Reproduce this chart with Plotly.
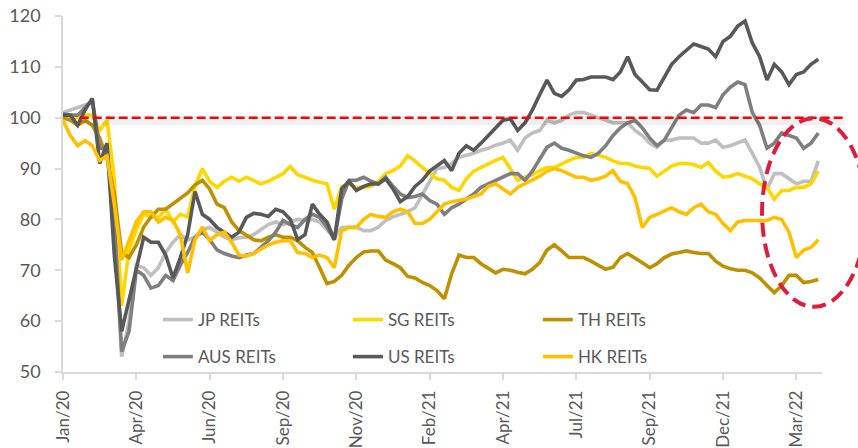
import plotly.graph_objects as go

tick_labels = ["Jan/20", "Apr/20", "Jun/20", "Sep/20", "Nov/20", "Feb/21",
               "Apr/21", "Jul/21", "Sep/21", "Dec/21", "Mar/22"]
tick_step = 10  # points per label interval

jp = [101, 101.5, 102, 102.5, 103, 95, 94, 78, 53, 60,
      71, 70.5, 69, 70.5, 73.5, 75.5, 77, 76, 76.5, 78,
      78.4, 77.5, 76.5, 76, 76.4, 76.5, 77, 78, 79, 79.5,
      79, 79.5, 80, 79.8, 80, 79.5, 78, 76.4, 78.4, 78.4,
      78.5, 77.8, 77.8, 78.5, 79.8, 80.5, 81, 81.5, 82.3, 85,
      87.5, 90, 90.2, 91, 92.2, 92.6, 93, 93.6, 94, 94.6,
      95, 95.6, 93.6, 96, 97, 97.5, 99.5, 99, 99.5, 100.5,
      101, 101, 100.5, 100, 99.5, 99, 99, 99, 97.5, 96.5,
      95, 94.2, 95.6, 95.6, 96, 96, 96, 95, 95, 95.6,
      94.2, 94.5, 95, 95.6, 93, 90.2, 86, 89, 89, 88,
      87, 87.5, 87.5, 91.5]

sg = [100, 100, 100, 100.5, 100.5, 97.5, 99.5, 88, 63, 74,
      78, 81, 80.5, 80.4, 82, 79.5, 81, 80.5, 86.5, 90,
      87.5, 86.3, 87.5, 88.3, 87.5, 88.3, 87.7, 87, 87.5, 88.3,
      89, 90.4, 88.8, 88.3, 87.7, 87.3, 87, 82, 86.5, 87,
      86.3, 86.3, 86.5, 87.5, 89, 89.6, 90.5, 92.5, 91.5, 90.2,
      89, 88, 87.7, 86.3, 85.7, 88, 89.5, 90.2, 91, 91.6,
      92.2, 90, 87.7, 88.3, 88.8, 89.6, 90.2, 90.2, 91, 91.6,
      92.2, 92.2, 93, 92.6, 92.2, 91.5, 91, 91, 90.5, 90.2,
      90, 88.5, 89.6, 90.5, 91, 91, 90.8, 90.2, 91.2, 89.5,
      88.3, 88.5, 89, 88.5, 88, 87, 86.3, 84, 85.7, 85.7,
      86.3, 86.3, 87, 89.5]

th = [100, 99.5, 98.5, 99.5, 98.5, 96, 92, 85, 73.5, 72.5,
      75, 78.5, 80.5, 82, 82, 83, 84, 85.2, 86.8, 87.7,
      86, 83, 82.3, 79.5, 77.8, 77, 76, 75.8, 76.5, 77,
      76.5, 76.5, 75.8, 74.5, 73.5, 70.5, 67.4, 67.8, 69, 71,
      72.5, 73.6, 73.8, 73.8, 72, 71.3, 70.5, 68.8, 68.5, 67.6,
      67, 66, 64.4, 69.3, 73, 72.5, 72.5, 71.3, 70.5, 69.5,
      70.2, 70, 69.6, 69.3, 70.2, 71.5, 74, 75, 73.8, 72.5,
      72.5, 72.5, 71.8, 71, 70.2, 70.6, 72.5, 73.3, 72.5, 71.5,
      70.5, 71.3, 72.5, 73.2, 73.5, 73.8, 73.5, 73.3, 73.3, 71.8,
      70.8, 70.3, 70, 70, 69.5, 68.5, 67, 65.6, 67, 69,
      69, 67.6, 67.8, 68.2]

aus = [100.8, 100.5, 100.5, 102, 103.5, 94, 94, 80, 54, 58,
       70, 69, 66.5, 67, 69, 68, 71, 73.5, 76.5, 77.5,
       76, 74, 73.3, 72.8, 72.5, 73, 73.3, 74.5, 75.8, 77.5,
       79.8, 79, 78.4, 80, 81, 80.4, 78.5, 76, 84, 87.7,
       87.7, 88.3, 87.5, 87, 88.3, 86.5, 85, 84.3, 84.5, 85,
       83.7, 83, 81, 82.3, 83, 84, 85, 86.3, 87, 87.7,
       88.3, 89, 89, 87.7, 89.5, 92, 94.2, 95, 94, 93.6,
       93, 92.5, 92.2, 93, 94.5, 96.5, 98, 99, 99.5, 98,
       96, 94.5, 95.6, 98, 100.5, 101.5, 101, 102.5, 102.5, 102,
       104.5, 106, 107, 106.5, 101, 98.5, 94, 95, 97, 96.5,
       96, 94, 95, 97]

us = [100.5, 100.5, 98.5, 101.5, 103.8, 91, 95, 73, 58, 64,
      70, 76.5, 75.5, 75.5, 73, 68.5, 72.5, 77, 85.5, 81,
      80, 78.4, 77.5, 76.5, 77.5, 80.4, 81.2, 81, 80.6, 82,
      81.5, 80, 76, 77, 83, 81, 79.5, 76, 86, 87.5,
      85.7, 86.5, 87, 87, 88, 86, 83.5, 84.5, 86.5, 87.7,
      89.5, 90.5, 91.6, 89.6, 93, 94.5, 93.6, 95, 96.5, 98,
      99.5, 99.8, 97.5, 99, 101.5, 104.5, 107.4, 104.8, 104.2, 105.5,
      107.4, 107.5, 108, 108, 108, 107.5, 109, 112, 108.5, 107,
      105.5, 105.4, 108, 110.5, 112, 113.3, 114.5, 114, 113.5, 112,
      115, 116, 118, 119, 114.7, 112, 107.4, 110.5, 109, 106.5,
      108.5, 109, 110.5, 111.5]

hk = [99.5, 96.5, 94.5, 95.5, 94.5, 91.6, 92.5, 83, 72, 76,
      79.5, 81.5, 81.5, 79.5, 80.4, 79.8, 77, 69.5, 76, 78.5,
      75.8, 77, 77.5, 75.5, 73, 72.8, 73.3, 74.2, 75, 75.5,
      75.8, 75.8, 73.5, 73.3, 72.5, 73, 72.5, 70.5, 77.8, 78.4,
      78.4, 80, 81, 80.6, 80.4, 81.5, 82, 81.5, 79.2, 79.2,
      80, 81.5, 83, 83.5, 83.7, 84, 84.5, 85, 86.5, 87,
      86, 85, 86.3, 87, 87.7, 88.5, 89.5, 90, 89.6, 89,
      88.3, 88.3, 87.7, 88, 88.5, 89.6, 87.5, 87, 84.3, 78.4,
      80.4, 81, 81.7, 82.3, 81.5, 81, 82.3, 83, 81.5, 81,
      79.2, 77.8, 79.5, 79.8, 79.8, 79.8, 79.8, 80.4, 80, 77.5,
      72.5, 74, 74.5, 76]

baseline = 100

series = [
    ("JP REITs", jp, "#bfbfbf", "legend"),
    ("SG REITs", sg, "#ffd700", "legend"),
    ("TH REITs", th, "#bf9000", "legend"),
    ("AUS REITs", aus, "#7f7f7f", "legend2"),
    ("US REITs", us, "#595959", "legend2"),
    ("HK REITs", hk, "#ffc000", "legend2"),
]

FONT = "Lato"
TXT = "#595959"

fig = go.Figure()
for name, vals, color, lg in series:
    fig.add_trace(go.Scatter(
        x=list(range(len(vals))), y=vals, mode="lines", name=name,
        line=dict(color=color, width=3.6), legend=lg,
    ))

tickvals = [i * tick_step for i in range(len(tick_labels))]

# shadow + red dashed reference line at 100
fig.add_shape(type="line", xref="paper", yref="y", x0=0.024, x1=1.03,
              y0=baseline - 0.8, y1=baseline - 0.8,
              line=dict(color="rgba(0,0,0,0.06)", width=7))
fig.add_shape(type="line", xref="paper", yref="y", x0=0.022, x1=1.028,
              y0=baseline, y1=baseline,
              line=dict(color="#ff0000", width=2.5, dash="9px,4px"))
# highlight ellipse
fig.add_shape(type="circle", xref="paper", yref="paper",
              x0=0.921, x1=1.058, y0=0.183, y1=0.713,
              line=dict(color="#dc1e3c", width=4, dash="14px,7px"))

leg_common = dict(orientation="h", xanchor="left", yanchor="middle",
                  bgcolor="rgba(0,0,0,0)", entrywidth=145,
                  entrywidthmode="pixels", itemwidth=30,
                  font=dict(family=FONT, size=17, color=TXT),
                  traceorder="normal")

fig.update_layout(
    width=858, height=448,
    margin=dict(l=63, r=36, t=16, b=76, autoexpand=False),
    paper_bgcolor="white", plot_bgcolor="white",
    showlegend=True,
    legend=dict(x=0.125, y=0.146, **leg_common),
    legend2=dict(x=0.125, y=0.042, **leg_common),
    xaxis=dict(
        range=[0, 103.5], tickmode="array", tickvals=tickvals,
        ticktext=tick_labels, tickangle=-90, showgrid=False, automargin=False,
        zeroline=False, showline=True, linecolor="#d9d9d9", linewidth=1.5,
        ticks="outside", ticklen=6, tickcolor="#d9d9d9", tickwidth=1.5,
        ticklabelstandoff=4,
        tickfont=dict(family=FONT, size=17, color=TXT),
    ),
    yaxis=dict(
        range=[50, 120], tickvals=[50, 60, 70, 80, 90, 100, 110, 120],
        showgrid=False, zeroline=False, showline=True, automargin=False,
        linecolor="#d9d9d9", linewidth=1.5,
        ticks="outside", ticklen=6, tickcolor="#d9d9d9", tickwidth=1.5,
        ticklabelstandoff=11,
        tickfont=dict(family=FONT, size=18, color=TXT),
    ),
)

fig.write_html("out.html",
               config={"displayModeBar": False},
               post_script="document.body.style.margin='0px';"
                           "document.body.style.overflow='hidden';")
